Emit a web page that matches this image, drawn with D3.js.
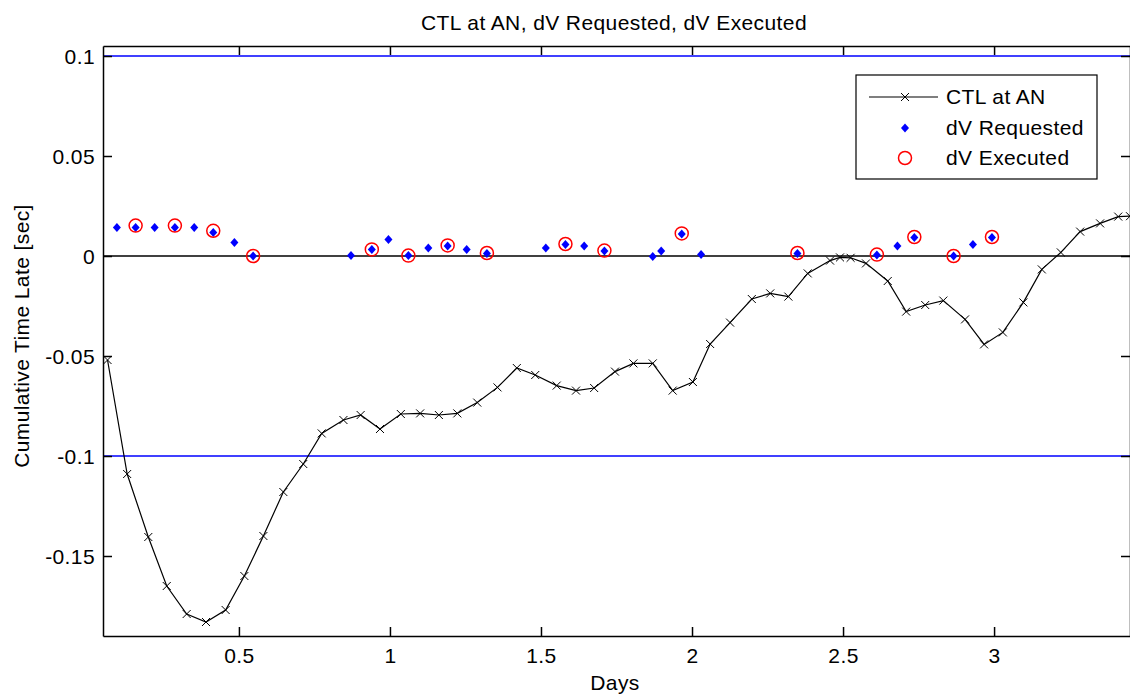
<!DOCTYPE html>
<html>
<head>
<meta charset="utf-8">
<script src="https://cdn.jsdelivr.net/npm/d3@7"></script>
<style>
  body { margin: 0; background: #fff; }
  text { font-family: "Liberation Sans", Arial, sans-serif; fill: #000; letter-spacing: 0.4px; }
</style>
</head>
<body>
<div id="chart"></div>
<script>
// CTL at AN (black line with x markers)
var ctlDays = [0.065, 0.130, 0.200, 0.261, 0.327, 0.391, 0.456, 0.518, 0.581, 0.647,
  0.713, 0.774, 0.846, 0.903, 0.967, 1.036, 1.100, 1.162, 1.223, 1.289,
  1.356, 1.420, 1.481, 1.552, 1.616, 1.676, 1.745, 1.806, 1.870, 1.936,
  2.003, 2.060, 2.126, 2.198, 2.259, 2.319, 2.383, 2.457, 2.490, 2.525,
  2.576, 2.648, 2.709, 2.772, 2.832, 2.904, 2.967, 3.029, 3.097, 3.158,
  3.221, 3.285, 3.351, 3.411, 3.450];
var ctlValues = [-0.052, -0.109, -0.1405, -0.165, -0.179, -0.183, -0.177, -0.160, -0.140, -0.118,
  -0.104, -0.0887, -0.082, -0.0795, -0.0865, -0.079, -0.0787, -0.0795, -0.0787, -0.0733,
  -0.0657, -0.056, -0.0595, -0.0648, -0.0673, -0.066, -0.0578, -0.0537, -0.0537, -0.0673,
  -0.063, -0.044, -0.0333, -0.0215, -0.0187, -0.0203, -0.0087, -0.0023, -0.0007, -0.0009,
  -0.0037, -0.0125, -0.0278, -0.0245, -0.0223, -0.0317, -0.0442, -0.0382, -0.0232, -0.0067,
  0.0018, 0.0122, 0.0163, 0.0197, 0.0199];

// dV Requested (blue diamonds)
var reqDays = [0.096, 0.158, 0.221, 0.288, 0.352, 0.415, 0.485, 0.547, 0.871, 0.940,
  0.995, 1.061, 1.127, 1.191, 1.254, 1.321, 1.516, 1.581, 1.643, 1.710,
  1.870, 1.898, 1.966, 2.030, 2.349, 2.612, 2.680, 2.736, 2.866, 2.930, 2.993];
var reqValues = [0.0143, 0.0143, 0.0143, 0.0143, 0.0143, 0.0117, 0.0067, 0.0, 0.0003, 0.0033,
  0.0083, 0.0002, 0.004, 0.005, 0.0033, 0.0013, 0.004, 0.0058, 0.005, 0.0025,
  -0.0003, 0.0025, 0.011, 0.0007, 0.0013, 0.0005, 0.005, 0.0093, 0.0, 0.0058, 0.0093];

// dV Executed (red circles)
var exeDays = [0.158, 0.288, 0.415, 0.547, 0.940, 1.061, 1.191, 1.321, 1.581, 1.710,
  1.966, 2.349, 2.612, 2.736, 2.866, 2.993];
var exeValues = [0.0152, 0.0152, 0.0126, 0.0, 0.0033, 0.0002, 0.0053, 0.0015, 0.006, 0.0027,
  0.0113, 0.0015, 0.0007, 0.0095, 0.0, 0.0095];

var xTicks = [0.5, 1, 1.5, 2, 2.5, 3];
var yTicks = [-0.15, -0.1, -0.05, 0, 0.05, 0.1];
var limitLines = [-0.1, 0.1];

var titleText = "CTL at AN, dV Requested, dV Executed";
var xLabel = "Days";
var yLabel = "Cumulative Time Late [sec]";
var legendLabels = ["CTL at AN", "dV Requested", "dV Executed"];

var W = 1130, H = 700;
var margin = {top: 46, right: 0, bottom: 64, left: 103};
var iw = W - margin.left - margin.right, ih = H - margin.top - margin.bottom;
var fs = "21px";

var x = d3.scaleLinear().domain([0.05, 3.45]).range([0, iw]);
var y = d3.scaleLinear().domain([-0.19, 0.105]).range([ih, 0]);

var svg = d3.select("#chart").append("svg").attr("width", W).attr("height", H);
var g = svg.append("g").attr("transform", "translate(" + margin.left + "," + margin.top + ")");

g.append("rect").attr("width", iw).attr("height", ih).attr("fill", "#fff");

// limit lines and zero line
g.selectAll(".limit").data(limitLines).enter().append("line")
  .attr("x1", 0).attr("x2", iw)
  .attr("y1", d => y(d)).attr("y2", d => y(d))
  .attr("stroke", "#0000ff").attr("stroke-width", 1.5);
g.append("line").attr("x1", 0).attr("x2", iw)
  .attr("y1", y(0)).attr("y2", y(0))
  .attr("stroke", "#000").attr("stroke-width", 1.5);

// CTL line
var ctl = ctlDays.map((d, i) => ({x: d, y: ctlValues[i]}));
var line = d3.line().x(d => x(d.x)).y(d => y(d.y));
g.append("path").datum(ctl).attr("d", line)
  .attr("fill", "none").attr("stroke", "#000").attr("stroke-width", 1.2);
var xMark = "M-4,-4L4,4M-4,4L4,-4";
g.selectAll(".xm").data(ctl).enter().append("path")
  .attr("transform", d => "translate(" + x(d.x) + "," + y(d.y) + ")")
  .attr("d", xMark).attr("stroke", "#000").attr("stroke-width", 1);

// requested
var diamond = "M0,-4.5L4,0L0,4.5L-4,0Z";
g.selectAll(".req").data(reqDays).enter().append("path")
  .attr("transform", (d, i) => "translate(" + x(d) + "," + y(reqValues[i]) + ")")
  .attr("d", diamond).attr("fill", "#0000ff");

// executed
g.selectAll(".exe").data(exeDays).enter().append("circle")
  .attr("cx", d => x(d)).attr("cy", (d, i) => y(exeValues[i]))
  .attr("r", 6.5).attr("fill", "none").attr("stroke", "#ff0000").attr("stroke-width", 1.5);

// axes with inward ticks
var tl = 9;
var fmt = d => String(d);
var axB = g.append("g").attr("transform", "translate(0," + ih + ")")
  .call(d3.axisBottom(x).tickValues(xTicks).tickSizeInner(-tl).tickSizeOuter(0).tickPadding(12).tickFormat(fmt));
var axT = g.append("g")
  .call(d3.axisTop(x).tickValues(xTicks).tickSizeInner(-tl).tickSizeOuter(0).tickFormat(""));
var axL = g.append("g")
  .call(d3.axisLeft(y).tickValues(yTicks).tickSizeInner(-tl).tickSizeOuter(0).tickPadding(8).tickFormat(fmt));
var axR = g.append("g").attr("transform", "translate(" + iw + ",0)")
  .call(d3.axisRight(y).tickValues(yTicks).tickSizeInner(-tl).tickSizeOuter(0).tickFormat(""));

[axB, axT, axL, axR].forEach(a => {
  a.select(".domain").attr("stroke", "#000").attr("stroke-width", 1.5);
  a.selectAll(".tick line").attr("stroke", "#000").attr("stroke-width", 1.5);
  a.selectAll("text").style("font-size", fs).attr("fill", "#000");
});
axL.selectAll("text").attr("dy", "0.35em");

// titles
svg.append("text").attr("x", 614).attr("y", 30)
  .attr("text-anchor", "middle").style("font-size", fs).text(titleText);
svg.append("text").attr("x", 615).attr("y", 690)
  .attr("text-anchor", "middle").style("font-size", fs).text(xLabel);
svg.append("text").attr("transform", "translate(29," + (margin.top + ih / 2 - 5) + ") rotate(-90)")
  .attr("text-anchor", "middle").style("font-size", fs).text(yLabel);

// legend
var lg = svg.append("g").attr("transform", "translate(856,75)");
lg.append("rect").attr("width", 241).attr("height", 104)
  .attr("fill", "#fff").attr("stroke", "#000").attr("stroke-width", 1.2);
var rows = [22, 53, 83];
lg.append("line").attr("x1", 13).attr("x2", 82).attr("y1", rows[0]).attr("y2", rows[0])
  .attr("stroke", "#000").attr("stroke-width", 1.2);
lg.append("path").attr("transform", "translate(49," + rows[0] + ")").attr("d", xMark)
  .attr("stroke", "#000");
lg.append("path").attr("transform", "translate(49," + rows[1] + ")").attr("d", diamond)
  .attr("fill", "#0000ff");
lg.append("circle").attr("cx", 49).attr("cy", rows[2]).attr("r", 6.5)
  .attr("fill", "none").attr("stroke", "#ff0000").attr("stroke-width", 1.5);
lg.selectAll(".lt").data(legendLabels).enter().append("text")
  .attr("x", 90).attr("y", (d, i) => rows[i]).attr("dy", "0.35em")
  .style("font-size", fs).text(d => d);
</script>
</body>
</html>
